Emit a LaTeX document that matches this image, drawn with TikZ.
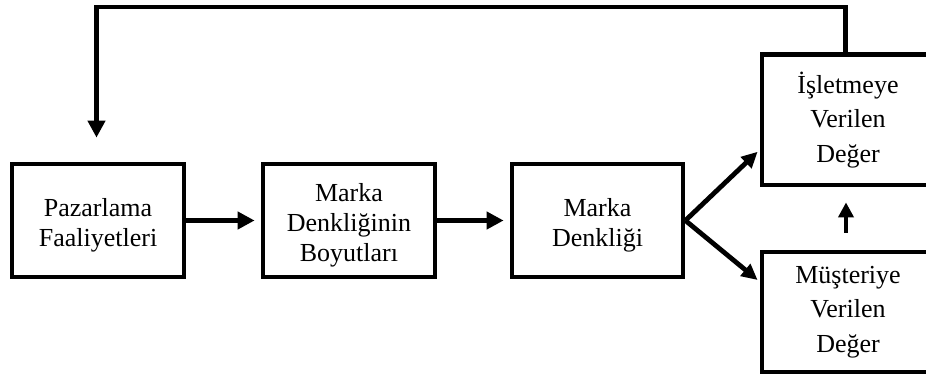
\documentclass[tikz,border=0pt]{standalone}
\usepackage{fontspec}
\setmainfont{Liberation Serif}
\usetikzlibrary{arrows.meta,calc}

% extra room above the first text line, to set the text a little lower
\newcommand{\firstpad}{\rule{0pt}{28pt}}

\tikzset{
  flowbox/.style={draw=black, line width=4.8pt, minimum width=172pt,
    inner sep=0pt, align=center},
  lefttext/.style={font=\fontsize{26pt}{30pt}\selectfont},
  righttext/.style={font=\fontsize{26pt}{34.5pt}\selectfont},
  flow/.style={line width=4.8pt,
    -{Triangle[length=17pt,width=17pt]}},
  slant/.style={line width=4.8pt,
    -{Triangle[length=16pt,width=15pt]}},
}

\begin{document}
\begin{tikzpicture}[x=1pt,y=1pt]
  \useasboundingbox (0,0) rectangle (926,376);

  % main chain of boxes
  \node[flowbox, lefttext, minimum height=113pt] (paz) at (98,155.5)
    {\firstpad Pazarlama\\Faaliyetleri};
  \node[flowbox, lefttext, minimum height=113pt] (boy) at (349,155.5)
    {\firstpad Marka\\Denkliğinin\\Boyutları};
  \node[flowbox, lefttext, minimum height=113pt, minimum width=171pt] (den) at (597.5,155.5)
    {\firstpad Marka\\Denkliği};

  % value boxes on the right
  \node[flowbox, righttext, minimum height=130.5pt] (isl) at (848,256.25)
    {İşletmeye\\Verilen\\Değer};
  \node[flowbox, righttext, minimum height=120pt] (mus) at (848,64)
    {Müşteriye\\Verilen\\Değer};

  % connectors
  \draw[flow, shorten >=6pt] (paz.east) -- (boy.west);
  \draw[flow, shorten >=6pt] (boy.east) -- (den.west);
  \draw[slant] (den.east) -- ($(isl.west)+(-2,-32)$);
  \draw[slant] (den.east) -- ($(mus.west)+(-2,32)$);
  \draw[line width=4.8pt, -{Triangle[length=15pt,width=15pt]},
        shorten <=17pt, shorten >=15pt]
    ([xshift=-2pt]mus.north) -- ([xshift=-2pt]isl.south);

  % feedback loop back to the marketing activities
  \coordinate (loop) at (96.5,369);
  \draw[flow, shorten >=24pt]
    ([xshift=-2.5pt]isl.north) |- (loop) -- ([xshift=-1.5pt]paz.north);
\end{tikzpicture}
\end{document}
